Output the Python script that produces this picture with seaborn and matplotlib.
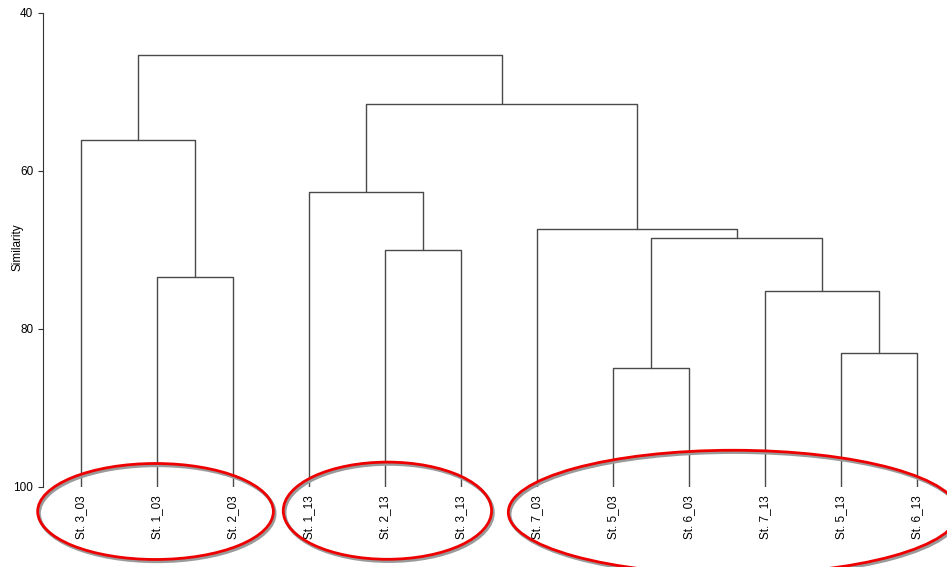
import matplotlib
matplotlib.use("Agg")
import matplotlib.pyplot as plt
from matplotlib.patches import Ellipse
from matplotlib.transforms import offset_copy
import numpy as np
import pandas as pd
import seaborn as sns

# Station samples in dendrogram leaf order
leaves = ["St. 3_03", "St. 1_03", "St. 2_03",
          "St. 1_13", "St. 2_13", "St. 3_13",
          "St. 7_03", "St. 5_03", "St. 6_03", "St. 7_13", "St. 5_13", "St. 6_13"]

# Agglomeration steps (node ids follow the linkage convention: new node = n_leaves + step)
merge_left = [1, 0, 4, 3, 7, 10, 9, 16, 6, 15, 13]
merge_right = [2, 12, 5, 14, 8, 11, 17, 18, 19, 20, 21]
merge_similarity = [73.4, 56.1, 70.0, 62.7, 85.0, 83.1, 75.2, 68.5, 67.4, 51.5, 45.3]

# Sample groups (leaf indices) circled below the tree
groups = [[0, 1, 2], [3, 4, 5], [6, 7, 8, 9, 10, 11]]

yticks = [40, 60, 80, 100]
leaf_level = 100

sns.set_style("white")
plt.rcParams["font.family"] = ["Liberation Sans", "DejaVu Sans"]
plt.rcParams["text.color"] = "black"
plt.rcParams["xtick.color"] = "black"
plt.rcParams["ytick.color"] = "black"

# Build the bracket segments of the tree
n = len(leaves)
node_x = {i: float(i) for i in range(n)}
node_y = {i: float(leaf_level) for i in range(n)}
rows = []
for step, (a, b, h) in enumerate(zip(merge_left, merge_right, merge_similarity)):
    xa, xb = node_x[a], node_x[b]
    ya, yb = node_y[a], node_y[b]
    for x, y in [(xa, ya), (xa, h), (xb, h), (xb, yb)]:
        rows.append({"link": step, "x": x, "similarity": y})
    node_x[n + step] = (xa + xb) / 2
    node_y[n + step] = h
links = pd.DataFrame(rows)

fig = plt.figure(figsize=(9.47, 5.67), dpi=100)
ax = fig.add_axes([0.0454, 0.1411, 0.9546, 0.836])

sns.lineplot(data=links, x="x", y="similarity", units="link", estimator=None,
             sort=False, color="#4a4a4a", linewidth=1.0, ax=ax, legend=False)

ax.set_xlim(-0.5, 11.39)
ax.set_ylim(leaf_level, 40)
ax.set_yticks(yticks)
ax.set_yticklabels([str(t) for t in yticks], fontsize=8.5)
ax.set_xticks(range(n))
ax.set_xticklabels(leaves, rotation=90, fontsize=8.5, va="top")
ax.tick_params(axis="x", length=0, pad=6, labelcolor="black")
ax.tick_params(axis="y", length=3.5, width=0.8, color="#333333", pad=3.5, left=True,
               labelcolor="black")
ax.set_xlabel("")
ax.set_ylabel("Similarity", fontsize=8.5, color="black")
ax.yaxis.set_label_coords(-0.022, 0.505)
for side in ["top", "right", "bottom"]:
    ax.spines[side].set_visible(False)
ax.spines["left"].set_color("#333333")
ax.spines["left"].set_linewidth(0.8)
ax.spines["left"].set_bounds(40, 100)

# Rings around the sample groups, with a soft grey shadow
ring_shape = [(-0.02, 3.10, 103.1, 12.15), (0.03, 2.74, 103.0, 12.3), (0.08, 5.92, 103.2, 15.7)]
shadow = offset_copy(ax.transData, fig=fig, x=1.5, y=-2.0, units="dots")
for grp, (dx, w, cy, h) in zip(groups, ring_shape):
    cx = np.mean(grp) + dx
    ax.add_patch(Ellipse((cx, cy), w, h, fill=False, edgecolor="#9a9a9a",
                         linewidth=2.4, transform=shadow, clip_on=False, zorder=3))
    ax.add_patch(Ellipse((cx, cy), w, h, fill=False, edgecolor="#ee0000",
                         linewidth=2.0, clip_on=False, zorder=4))

fig.savefig("out.png", dpi=100)
